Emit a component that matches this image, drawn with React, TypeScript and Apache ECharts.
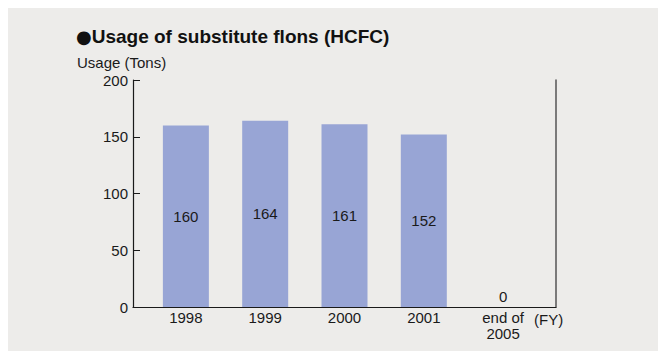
import React, { useEffect, useRef } from "react";
import * as echarts from "echarts";

const categories = ["1998", "1999", "2000", "2001", "end of\n2005"];
const usageTons = [160, 164, 161, 152, 0];
const yTicks = [0, 50, 100, 150, 200];
const titleBullet = "●";
const titleText = "Usage of substitute flons (HCFC)";
const yAxisTitle = "Usage (Tons)";
const xUnit = "(FY)";

const FONT = "'Liberation Sans', Arial, Helvetica, sans-serif";
const FS = 15;

export default function App() {
  const ref = useRef<HTMLDivElement>(null);
  useEffect(() => {
    if (!ref.current) return;
    const chart = echarts.init(ref.current, undefined, { renderer: "svg" });
    const barData = usageTons.map((v, i) => ({
      value: [i, v],
      label: v === 0 ? { position: "top", distance: 3 } : { position: "inside" },
    }));
    chart.setOption({
      animation: false,
      backgroundColor: "#EDECEA",
      textStyle: { fontFamily: FONT },
      grid: { left: 125, top: 73, width: 423, height: 227, containLabel: false },
      xAxis: {
        type: "value",
        min: -2 / 3,
        max: 14 / 3,
        axisLine: { show: true, onZero: false, lineStyle: { color: "#1a1a1a", width: 1.2 } },
        axisTick: { show: false },
        splitLine: { show: false },
        axisLabel: {
          customValues: [0, 1, 2, 3, 4],
          formatter: (v: number) => categories[Math.round(v)] ?? "",
          color: "#1a1a1a",
          fontSize: FS,
          lineHeight: 16,
          margin: 2,
          fontFamily: FONT,
        },
      },
      yAxis: [
        {
          type: "value",
          min: yTicks[0],
          max: yTicks[yTicks.length - 1],
          interval: 50,
          axisLine: { show: true, onZero: false, lineStyle: { color: "#1a1a1a", width: 1.2 } },
          axisTick: { show: true, inside: true, length: 7, lineStyle: { color: "#1a1a1a" } },
          splitLine: { show: false },
          axisLabel: { color: "#1a1a1a", fontSize: FS, margin: 5, fontFamily: FONT },
        },
        {
          type: "value",
          position: "right",
          min: yTicks[0],
          max: yTicks[yTicks.length - 1],
          interval: 50,
          axisLine: { show: true, onZero: false, lineStyle: { color: "#555", width: 1.5 } },
          axisTick: { show: false },
          axisLabel: { show: false },
          splitLine: { show: false },
        },
      ],
      series: [
        {
          type: "bar",
          data: barData,
          barWidth: 46,
          itemStyle: { color: "#98A5D5" },
          label: {
            show: true,
            position: "inside",
            color: "#1a1a1a",
            fontSize: FS,
            fontFamily: FONT,
            formatter: (p: any) => String(p.value[1]),
          },
        },
      ],
      graphic: [
        {
          type: "text",
          left: 68,
          top: 20,
          style: {
            text: "{b|" + titleBullet + "}{t|" + titleText + "}",
            rich: {
              b: { fontSize: 18, fontFamily: "'DejaVu Sans', sans-serif", fill: "#111", lineHeight: 24 },
              t: { fontSize: 19, fontWeight: "bold", fontFamily: FONT, fill: "#111", lineHeight: 24 },
            },
          },
        },
        {
          type: "text",
          left: 69,
          top: 48,
          style: { text: yAxisTitle, fontSize: FS, fill: "#1a1a1a", fontFamily: FONT },
        },
        {
          type: "text",
          left: 526,
          top: 305,
          style: { text: xUnit, fontSize: FS, fill: "#1a1a1a", fontFamily: FONT },
        },
      ],
    });
    return () => chart.dispose();
  }, []);
  return (
    <div style={{ width: 658, height: 344, marginTop: -1, background: "#EDECEA" }}>
      <div ref={ref} style={{ width: 658, height: 344 }} />
    </div>
  );
}
